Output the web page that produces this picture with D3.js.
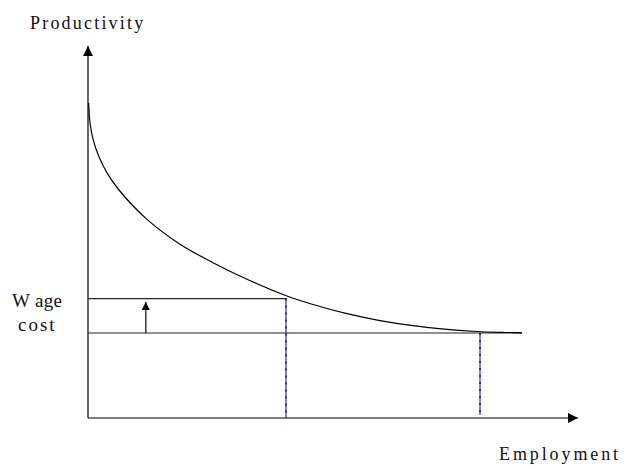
<!DOCTYPE html>
<html lang="en">
<head>
    <meta charset="UTF-8">
    <title>Productivity and Wage cost</title>
    <script src="https://d3js.org/d3.v7.min.js"></script>
    <style>
        body { margin: 0; background: white; }
        svg { display: block; }
        text {
            font-family: 'Liberation Serif', serif;
            fill: #111;
        }
    </style>
</head>
<body>
    <svg id="chart" width="626" height="469"></svg>

    <script>
        // productivity curve (employment, productivity on a 0-100 frame)
        const curveX = [0.14, 0.41, 1.08, 2.24, 3.88, 6.33, 12.04, 18.78, 25.51, 32.45, 40.6, 45.92, 52.86, 59.59, 66.33, 73.27, 79.39, 86.12, 88.57];
        const curveY = [84.7, 79.3, 74.7, 70.2, 65.9, 61.29, 53.39, 46.72, 41.75, 37.31, 32.8, 30.51, 28.04, 26.18, 24.81, 23.82, 23.25, 22.98, 22.88];

        // wage levels (old, new) and where each line ends
        const wageLevels = [22.85, 32.1];
        const wageEnds = [88.6, 40.6];
        // employment at each wage level
        const employment = [80.0, 40.4];
        const shiftArrowX = 11.8;

        const svg = d3.select("#chart");

        const x = d3.scaleLinear().domain([0, 100]).range([88, 578]);
        const y = d3.scaleLinear().domain([0, 100]).range([418, 46]);

        const defs = svg.append("defs");
        defs.append("marker")
            .attr("id", "head")
            .attr("viewBox", "0 0 10 10")
            .attr("refX", 10)
            .attr("refY", 5)
            .attr("markerUnits", "userSpaceOnUse")
            .attr("markerWidth", 11)
            .attr("markerHeight", 10)
            .attr("orient", "auto")
            .append("path")
            .attr("d", "M0,0L10,5L0,10Z")
            .attr("fill", "#000");
        defs.append("marker")
            .attr("id", "smallhead")
            .attr("viewBox", "0 0 10 10")
            .attr("refX", 10)
            .attr("refY", 5)
            .attr("markerUnits", "userSpaceOnUse")
            .attr("markerWidth", 11)
            .attr("markerHeight", 8)
            .attr("orient", "auto")
            .append("path")
            .attr("d", "M0,0L10,5L0,10Z")
            .attr("fill", "#000");

        // axes
        svg.append("line")
            .attr("x1", x(0)).attr("y1", y(0))
            .attr("x2", x(0)).attr("y2", y(100))
            .attr("stroke", "#000").attr("stroke-width", 1.2)
            .attr("marker-end", "url(#head)");
        svg.append("line")
            .attr("x1", x(0)).attr("y1", y(0))
            .attr("x2", x(100)).attr("y2", y(0))
            .attr("stroke", "#000").attr("stroke-width", 1.2)
            .attr("marker-end", "url(#head)");

        // wage lines
        svg.append("g")
            .selectAll("line")
            .data(wageLevels)
            .enter().append("line")
            .attr("x1", x(0))
            .attr("x2", (d, i) => x(wageEnds[i]))
            .attr("y1", d => y(d))
            .attr("y2", d => y(d))
            .attr("stroke", "#222")
            .attr("stroke-width", 1.2);

        // dashed employment lines (blue with dark dashes)
        const drops = svg.append("g");
        drops.selectAll(".blue")
            .data(employment)
            .enter().append("line")
            .attr("class", "blue")
            .attr("x1", d => x(d)).attr("x2", d => x(d))
            .attr("y1", (d, i) => y(wageLevels[i]))
            .attr("y2", (d, i) => i === 0 ? y(0.8) : y(0))
            .attr("stroke", "#3a3ad0")
            .attr("stroke-width", 1.3);
        drops.selectAll(".dash")
            .data(employment)
            .enter().append("line")
            .attr("class", "dash")
            .attr("x1", d => x(d)).attr("x2", d => x(d))
            .attr("y1", (d, i) => y(wageLevels[i]))
            .attr("y2", (d, i) => i === 0 ? y(0.8) : y(0))
            .attr("stroke", "#111")
            .attr("stroke-width", 1.3)
            .attr("stroke-dasharray", "2,5");

        // productivity curve
        const pts = curveX.map((v, i) => [v, curveY[i]]);
        svg.append("path")
            .datum(pts)
            .attr("fill", "none")
            .attr("stroke", "#000")
            .attr("stroke-width", 1.2)
            .attr("d", d3.line()
                .x(d => x(d[0]))
                .y(d => y(d[1]))
                .curve(d3.curveCatmullRom.alpha(0.5)));

        // wage rise arrow
        svg.append("line")
            .attr("x1", x(shiftArrowX)).attr("x2", x(shiftArrowX))
            .attr("y1", y(wageLevels[0])).attr("y2", y(31.2))
            .attr("stroke", "#000").attr("stroke-width", 1.2)
            .attr("marker-end", "url(#smallhead)");

        // labels
        svg.append("text")
            .attr("x", 30).attr("y", 28.5)
            .style("font-size", "18px")
            .style("letter-spacing", "2.2px")
            .text("Productivity");
        svg.append("text")
            .attr("x", 12).attr("y", 307)
            .style("font-size", "19px")
            .style("letter-spacing", "0.3px")
            .text("W age");
        svg.append("text")
            .attr("x", 18).attr("y", 331)
            .style("font-size", "19px")
            .style("letter-spacing", "2px")
            .text("cost");
        svg.append("text")
            .attr("x", 499).attr("y", 460)
            .style("font-size", "18px")
            .style("letter-spacing", "2.9px")
            .text("Employment");
    </script>
</body>
</html>
